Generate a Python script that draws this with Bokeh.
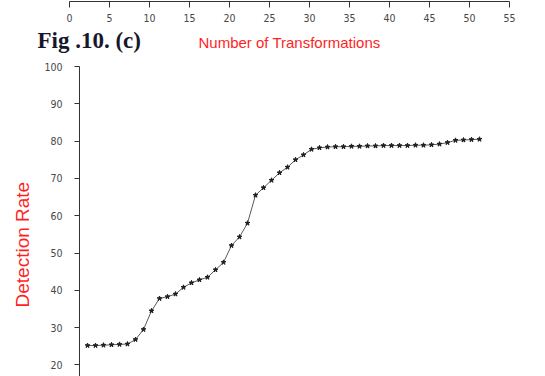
from bokeh.plotting import figure
from bokeh.models import Range1d, Title, ColumnDataSource
from bokeh.layouts import column
from bokeh.core.properties import value
from bokeh.embed import file_html
from bokeh.resources import INLINE

# ---- data ----
top_ticks = [0, 5, 10, 15, 20, 25, 30, 35, 40, 45, 50, 55]
y_ticks = [20, 30, 40, 50, 60, 70, 80, 90, 100]
transformations = [1, 2, 3, 4, 5, 6, 7, 8, 9, 10,
                   11, 12, 13, 14, 15, 16, 17, 18, 19, 20,
                   21, 22, 23, 24, 25, 26, 27, 28, 29, 30,
                   31, 32, 33, 34, 35, 36, 37, 38, 39, 40,
                   41, 42, 43, 44, 45, 46, 47, 48, 49, 50]
detection_rate = [25.2, 25.2, 25.3, 25.4, 25.5, 25.6, 26.8, 29.5, 34.5, 37.8,
                  38.3, 39.0, 40.8, 42.0, 42.8, 43.5, 45.5, 47.5, 52.0, 54.3,
                  58.0, 65.5, 67.5, 69.5, 71.5, 73.0, 75.0, 76.3, 77.8, 78.2,
                  78.4, 78.5, 78.5, 78.6, 78.6, 78.7, 78.7, 78.8, 78.8, 78.8,
                  78.8, 78.9, 78.9, 79.0, 79.2, 79.6, 80.2, 80.3, 80.4, 80.5]
x_label = "Number of Transformations"
y_label = "Detection Rate"
caption = "Fig .10. (c)"

TICK_FONT = "DejaVu Sans Condensed, Liberation Sans"
TICK_COLOR = "#474747"
AXIS_COLOR = "#333333"
RED = "#ff1f1f"


def style_axis(a, tick_out, standoff):
    a.major_tick_out = tick_out
    a.major_tick_in = 0
    a.minor_tick_out = 3
    a.minor_tick_in = 0
    a.axis_line_color = AXIS_COLOR
    a.major_tick_line_color = AXIS_COLOR
    a.minor_tick_line_color = AXIS_COLOR
    a.major_label_text_font = TICK_FONT
    a.major_label_text_font_size = "10.5px"
    a.major_label_text_color = TICK_COLOR
    a.major_label_standoff = standoff


# ---- top strip: bottom axis of the previous chart ----
p1 = figure(width=545, height=26, output_backend="svg", toolbar_location=None,
            x_range=Range1d(0, 55), y_range=Range1d(0, 1), frame_align=False,
            min_border_left=69, min_border_right=36, min_border_top=0, min_border_bottom=25)
p1.yaxis.visible = False
p1.grid.visible = False
p1.outline_line_color = None
ax = p1.xaxis[0]
ax.ticker = top_ticks
ax.ticker.num_minor_ticks = 2
style_axis(ax, 6, 6)

# ---- caption band (same horizontal scale as the axis above) ----
p3 = figure(width=545, height=32, output_backend="svg", toolbar_location=None,
            x_range=Range1d(-69 / 8, 55 + 36 / 8), y_range=Range1d(0, 32),
            min_border=0, frame_align=False)
p3.axis.visible = False
p3.grid.visible = False
p3.outline_line_color = None
band = ColumnDataSource(dict(x=[27.5], y=[16], t=[x_label]))
p3.text(x="x", y="y", text="t", source=band, text_font=value("Liberation Sans"),
        text_font_size="15px", text_color=RED, text_align="center", text_baseline="middle")
cap = ColumnDataSource(dict(x=[-4.0], y=[18], t=[caption]))
p3.text(x="x", y="y", text="t", source=cap, text_font=value("Liberation Serif"),
        text_font_style="bold", text_font_size="23px", text_color="#17172b",
        text_align="left", text_baseline="middle")

# ---- main chart ----
p2 = figure(width=545, height=318, output_backend="svg", toolbar_location=None,
            x_range=Range1d(0, 55), y_range=Range1d(16.9, 100), frame_align=False,
            min_border_left=79, min_border_right=26, min_border_top=8, min_border_bottom=0)
p2.xaxis.visible = False
p2.grid.visible = False
p2.outline_line_color = None
ay = p2.yaxis[0]
ay.ticker = y_ticks
ay.ticker.num_minor_ticks = 2
style_axis(ay, 5, 12)

p2.line(transformations, detection_rate, line_color="#5a5a5a", line_width=1)
p2.scatter(transformations, detection_rate, marker="star", size=5,
           fill_color="#1e1e1e", line_color="#1e1e1e")

p2.add_layout(Title(text=y_label, align="left", offset=69, text_font="Liberation Sans",
                    text_font_size="19px", text_font_style="normal", text_color=RED,
                    standoff=18), "left")

layout = column(p1, p3, p2, spacing=0)
open("out.html", "w").write(file_html(layout, INLINE))
